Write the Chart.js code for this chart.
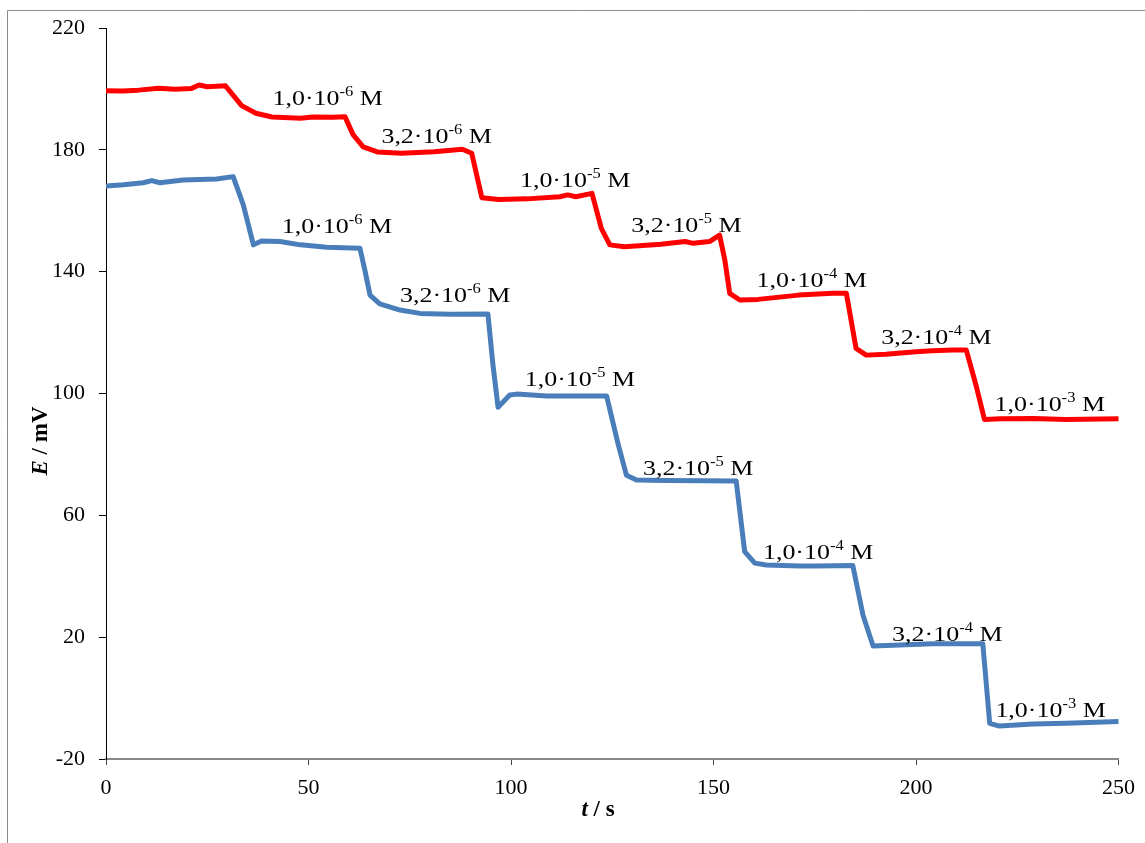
<!DOCTYPE html>
<html>
<head>
<meta charset="utf-8">
<script src="https://cdn.jsdelivr.net/npm/chart.js@4.4.1/dist/chart.umd.min.js"></script>
<style>
  html, body { margin: 0; padding: 0; background: #fff; }
  #wrap { width: 1145px; height: 843px; position: relative; }
  canvas { display: block; }
</style>
</head>
<body>
<div id="wrap"><canvas id="c" width="1145" height="843"></canvas></div>
<script>
// ---- Data (t / s, E / mV) ----
const redT = [0, 4, 8, 13, 17, 21, 23, 25, 29.5, 33.5, 37, 41, 48, 51, 56, 59, 61, 63.5, 67, 73, 81, 88, 90.3, 92.8, 97, 104, 112, 114, 116, 120, 122.3, 124.4, 128, 137, 143, 145, 149, 151.5, 152.8, 154, 156.5, 161, 171, 179.5, 182.8, 185.2, 187.7, 192.6, 200, 204, 209, 212.4, 214.9, 216.9, 221, 229, 237, 250];
const redE = [199.4, 199.3, 199.6, 200.2, 199.9, 200.1, 201.3, 200.7, 201, 194.5, 192, 190.8, 190.4, 190.8, 190.7, 190.9, 185, 181, 179.3, 178.9, 179.4, 180.2, 178.9, 164.3, 163.7, 163.9, 164.6, 165.2, 164.6, 165.7, 154.2, 148.8, 148.2, 149, 149.9, 149.3, 149.9, 152, 143.8, 132.9, 130.7, 130.9, 132.3, 132.9, 132.9, 114.8, 112.6, 112.9, 113.7, 114, 114.3, 114.3, 102.3, 91.5, 91.7, 91.8, 91.5, 91.7];

const blueT = [0, 4.3, 9.2, 11.3, 13.3, 19, 27.3, 31.4, 33.9, 36.4, 38.4, 43, 48, 54.5, 62.7, 63.9, 65.2, 67.6, 72.6, 77.5, 85, 94.3, 95.5, 96.8, 99.7, 101.4, 108.8, 123.6, 126.4, 128.5, 131, 138.4, 155.6, 157.7, 160.2, 163, 171.3, 175.4, 184.4, 186.9, 189.4, 196, 204.1, 216.5, 218.2, 220.6, 228.8, 237.1, 250];
const blueE = [168.1, 168.5, 169.2, 169.9, 169.2, 170.1, 170.4, 171.2, 161.9, 148.8, 150.1, 149.9, 148.8, 148, 147.7, 140.6, 132.3, 129.4, 127.4, 126.3, 126, 126.1, 109.9, 95.5, 99.5, 99.8, 99.2, 99.2, 83.6, 73.2, 71.6, 71.4, 71.3, 48.1, 44.3, 43.7, 43.4, 43.4, 43.5, 27.3, 17.1, 17.4, 17.8, 17.8, -8.3, -9.2, -8.5, -8.3, -7.7];

// concentration labels
const concMantissa = ["1,0", "3,2", "1,0", "3,2", "1,0", "3,2", "1,0"];
const concExponent = ["-6", "-6", "-5", "-5", "-4", "-4", "-3"];
const redLabelT  = [41.1, 68.0, 102.2, 129.7, 160.6, 191.4, 219.4];
const redLabelE  = [194.7, 182.3, 167.9, 153.1, 135.1, 116.3, 94.4];
const blueLabelT = [43.4, 72.6, 103.4, 132.6, 162.2, 194.1, 219.6];
const blueLabelE = [152.8, 130.1, 102.3, 73.3, 45.6, 18.9, -6.3];

// axis ticks
const xMin = 0, xMax = 250, xStep = 50;
const yMin = -20, yMax = 220, yStep = 40;

const SERIF = '"Liberation Serif", "Times New Roman", serif';

const framePlugin = {
  id: 'frame',
  beforeDraw(chart) {
    const c = chart.ctx;
    c.save();
    c.fillStyle = '#fff';
    c.fillRect(0, 0, chart.width, chart.height);
    c.strokeStyle = '#8a8a8a';
    c.lineWidth = 1;
    c.beginPath();
    c.moveTo(7.5, chart.height);
    c.lineTo(7.5, 10.5);
    c.lineTo(chart.width, 10.5);
    c.stroke();
    c.restore();
  }
};

const labelPlugin = {
  id: 'concLabels',
  afterDatasetsDraw(chart) {
    const c = chart.ctx;
    const xs = chart.scales.x, ys = chart.scales.y;
    const drawLabel = (t, e, mant, exp) => {
      const px = xs.getPixelForValue(t), py = ys.getPixelForValue(e);
      c.save();
      c.translate(px, py);
      c.scale(1.18, 1);
      c.fillStyle = '#000';
      c.textBaseline = 'alphabetic';
      c.textAlign = 'left';
      c.font = '22px ' + SERIF;
      const base = mant + '\u00B710';
      c.fillText(base, 0, 0);
      let w = c.measureText(base).width;
      c.font = '14px ' + SERIF;
      c.fillText(exp, w, -9);
      w += c.measureText(exp).width;
      c.font = '22px ' + SERIF;
      c.fillText(' M', w, 0);
      c.restore();
    };
    for (let i = 0; i < concMantissa.length; i++) {
      drawLabel(redLabelT[i], redLabelE[i], concMantissa[i], concExponent[i]);
      drawLabel(blueLabelT[i], blueLabelE[i], concMantissa[i], concExponent[i]);
    }
  }
};

const titlePlugin = {
  id: 'axisTitles',
  afterDraw(chart) {
    const c = chart.ctx;
    c.save();
    c.fillStyle = '#000';
    c.textBaseline = 'alphabetic';
    // x title: t / s
    const drawMixed = (parts) => {
      let total = 0;
      parts.forEach(p => { c.font = p.font; total += c.measureText(p.text).width; });
      let x = -total / 2;
      parts.forEach(p => { c.font = p.font; c.fillText(p.text, x, 0); x += c.measureText(p.text).width; });
    };
    c.save();
    c.translate(598, 816);
    drawMixed([
      { text: 't', font: 'italic bold 23px ' + SERIF },
      { text: ' / s', font: 'bold 23px ' + SERIF }
    ]);
    c.restore();
    c.save();
    c.translate(47, 441);
    c.rotate(-Math.PI / 2);
    drawMixed([
      { text: 'E', font: 'italic bold 23px ' + SERIF },
      { text: ' / mV', font: 'bold 23px ' + SERIF }
    ]);
    c.restore();
    c.restore();
  }
};

const toPoints = (ts, es) => ts.map((t, i) => ({ x: t, y: es[i] }));

new Chart(document.getElementById('c'), {
  type: 'scatter',
  data: {
    datasets: [
      {
        label: 'red',
        data: toPoints(redT, redE),
        showLine: true,
        borderColor: '#FF0000',
        backgroundColor: '#FF0000',
        borderWidth: 5,
        pointRadius: 0,
        tension: 0,
        borderJoinStyle: 'round',
        borderCapStyle: 'round'
      },
      {
        label: 'blue',
        data: toPoints(blueT, blueE),
        showLine: true,
        borderColor: '#4A7EBB',
        backgroundColor: '#4A7EBB',
        borderWidth: 5,
        pointRadius: 0,
        tension: 0,
        borderJoinStyle: 'round',
        borderCapStyle: 'round'
      }
    ]
  },
  options: {
    responsive: false,
    animation: false,
    devicePixelRatio: 1,
    layout: { padding: { top: 28, right: 26, left: 0, bottom: 0 } },
    plugins: { legend: { display: false }, tooltip: { enabled: false } },
    scales: {
      x: {
        type: 'linear',
        min: xMin, max: xMax,
        ticks: { stepSize: xStep, color: '#000', font: { family: SERIF, size: 22 }, padding: 10, maxRotation: 0 },
        grid: { drawOnChartArea: false, drawTicks: true, tickLength: 6, color: '#444', lineWidth: 1 },
        border: { display: true, color: '#888888', width: 2 },
        afterFit(s) { s.height = 84; }
      },
      y: {
        type: 'linear',
        min: yMin, max: yMax,
        ticks: { stepSize: yStep, color: '#000', font: { family: SERIF, size: 22 }, padding: 14 },
        grid: { drawOnChartArea: false, drawTicks: true, tickLength: 7, color: '#000', lineWidth: 1 },
        border: { display: true, color: '#000', width: 1 },
        afterFit(s) { s.width = 106; }
      }
    }
  },
  plugins: [framePlugin, labelPlugin, titlePlugin]
});
</script>
</body>
</html>
